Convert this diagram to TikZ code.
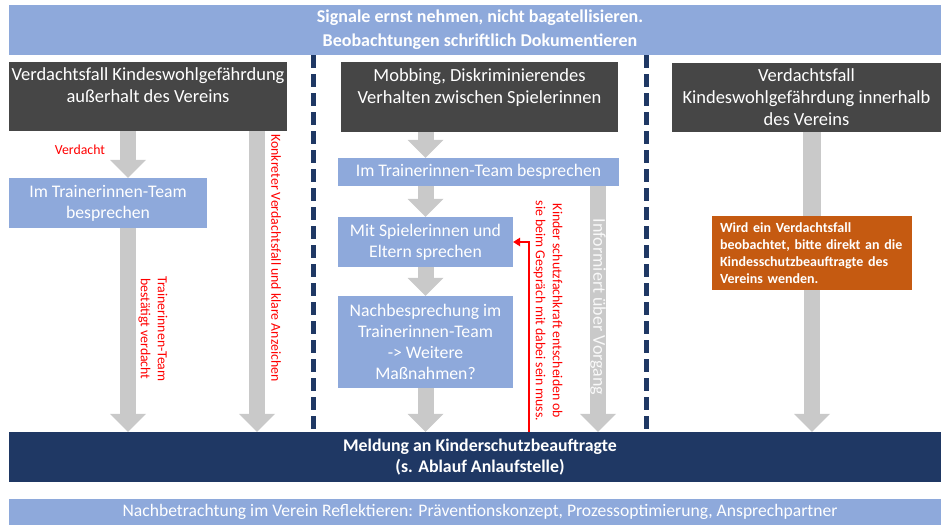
\documentclass[tikz,border=0pt]{standalone}
\usepackage{fontspec}
\setmainfont{Carlito}
\usetikzlibrary{arrows.meta,positioning}

\definecolor{bandblue}{HTML}{8EA9DB}
\definecolor{darkgrey}{HTML}{464646}
\definecolor{navy}{HTML}{1F3864}
\definecolor{arrowgrey}{HTML}{C9C9C9}
\definecolor{rust}{HTML}{C55A11}
\definecolor{alarmred}{HTML}{FF0000}

\tikzset{
  band/.style={fill=bandblue, text=white, minimum width=942pt, align=center, inner sep=0pt},
  darkbox/.style={fill=darkgrey, text=white, align=center, font=\fontsize{18.5}{22}\selectfont, inner sep=0pt},
  bluebox/.style={fill=bandblue, text=white, align=center, font=\fontsize{17.7}{21}\selectfont, inner sep=0pt},
  flow/.style={draw=arrowgrey, line width=16pt, -{Triangle[width=36pt,length=18pt,line width=0pt]}},
  shaft/.style={draw=arrowgrey, line width=18pt},
  feedback/.style={draw=alarmred, line width=2pt, -{Triangle[width=9pt,length=7pt,line width=0pt]}},
  redtext/.style={text=alarmred, font=\fontsize{13.8}{17}\selectfont, align=center, inner sep=0pt},
  divider/.style={draw=navy, line width=5pt, dash pattern=on 13pt off 6pt},
}

\begin{document}
\begin{tikzpicture}[x=1pt, y=-1pt]
  \useasboundingbox (0,0) rectangle (941,525);

  % bands
  \node[band, minimum height=50pt, font=\bfseries\fontsize{18}{24}\selectfont] (signale) at (480,30)
    {Signale ernst nehmen, nicht bagatellisieren.\\Beobachtungen schriftlich Dokumentieren};
  \node[band, fill=navy, minimum height=50pt, font=\bfseries\fontsize{17.8}{21}\selectfont] (meldung) at (480,457)
    {Meldung an Kinderschutzbeauftragte\\(s. Ablauf Anlaufstelle)};
  \node[band, minimum height=26pt, font=\fontsize{17.6}{20}\selectfont] (nachbetr) at (480,512)
    {Nachbetrachtung im Verein Reflektieren: Präventionskonzept, Prozessoptimierung, Ansprechpartner};

  % column heads
  \node[darkbox, minimum width=278pt, minimum height=69pt] (vaussen) at (148,96.5)
    {Verdachtsfall Kindeswohlgefährdung\\außerhalt des Vereins\\[-6pt] \strut};
  \node[darkbox, minimum width=277pt, minimum height=70pt] (mobbing) at (479.5,97)
    {Mobbing, Diskriminierendes\\Verhalten zwischen Spielerinnen\\[-6pt] \strut};
  \node[darkbox, minimum width=269pt, minimum height=69pt] (vinnen) at (806.5,97.5)
    {Verdachtsfall\\Kindeswohlgefährdung innerhalb\\des Vereins};

  % steps
  \node[bluebox, minimum width=198pt, minimum height=50pt] (lteam) at (108,203) {Im Trainerinnen-Team\\besprechen};
  \node[bluebox, minimum width=281pt, minimum height=28pt] (mteam) at (478.5,172) {Im Trainerinnen-Team besprechen};
  \node[bluebox, minimum width=175pt, minimum height=50pt] (spiel) at (425.5,242) {Mit Spielerinnen und\\Eltern sprechen};
  \node[bluebox, minimum width=175pt, minimum height=92pt] (nachbe) at (425.5,342)
    {Nachbesprechung im\\Trainerinnen-Team\\-> Weitere\\Maßnahmen?};

  \foreach \x in {313,646}
    \draw[divider] (signale.south -| \x,0) -- (meldung.north -| \x,0);

  \coordinate (lcol) at (128,0);
  \coordinate (kcol) at (257,0);
  \coordinate (icol) at (598,0);
  \coordinate (rcol) at (529,0);

  \draw[flow] (vaussen.south -| lcol) -- (lteam.north -| lcol);
  \draw[flow] (lteam.south -| lcol) -- (meldung.north -| lcol);
  \draw[flow] (vaussen.south -| kcol) -- (meldung.north -| kcol);
  \draw[flow] (mobbing.south -| spiel.north) -- (mteam.north -| spiel.north);
  \draw[flow] (mteam.south -| spiel.north) -- (spiel.north);
  \draw[flow] (spiel.south) -- (nachbe.north);
  \draw[flow] (nachbe.south) -- (meldung.north -| nachbe.south);
  \draw[flow] (mteam.south -| icol) -- (meldung.north -| icol);
  \draw[shaft] (vinnen.south -| 812,0) -- (812,216);

  \node[fill=rust, text=white, font=\bfseries\fontsize{14}{17}\selectfont, align=left,
    text width=184pt, minimum height=74pt, inner xsep=8pt, inner ysep=0pt] (hinweis) at (812,253)
    {Wird ein Verdachtsfall\\beobachtet, bitte direkt an die\\Kindesschutzbeauftragte des\\Vereins wenden.};
  \draw[flow] (hinweis.south) -- (meldung.north -| hinweis.south);

  \draw[feedback] (meldung.north -| rcol) -- (rcol |- spiel.east) -- (spiel.east);

  % labels
  \node[redtext] (verdacht) at (80,150) {Verdacht};
  \node[redtext, rotate=-90] (bestaetigt) at (153,329) {Trainerinnen-Team\\bestätigt verdacht};
  \node[redtext, rotate=-90] (konkret) at (276,258) {Konkreter Verdachtsfall und klare Anzeichen};
  \node[redtext, rotate=-90] (fachkraft) at (548,311)
    {Kinder schutzfachkraft entscheiden ob\\sie beim Gespräch mit dabei sein muss.};
  \node[rotate=-90, inner sep=0pt, text=white!88!arrowgrey, font=\fontsize{18}{18}\selectfont] (informiert) at (598,307)
    {Informiert über Vorgang};
\end{tikzpicture}
\end{document}
